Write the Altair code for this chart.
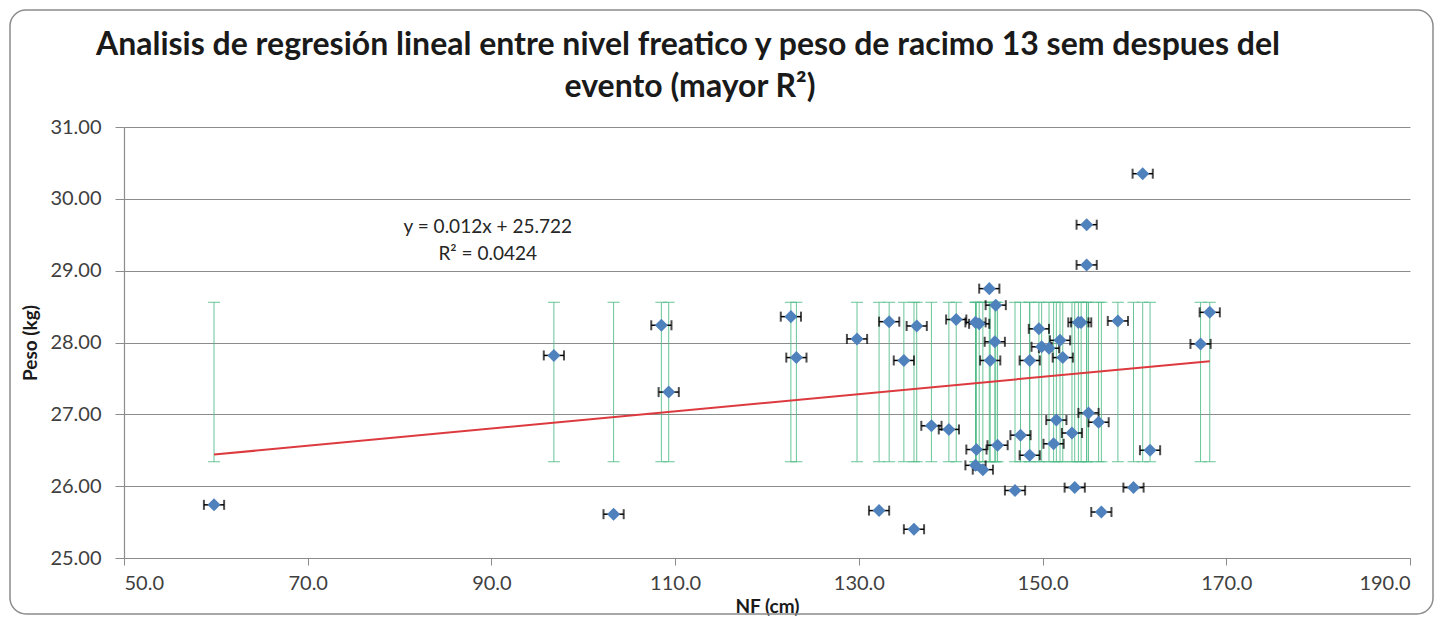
import altair as alt
import pandas as pd

# NF (cm) and Peso (kg)
nf = [59.8, 96.8, 103.3, 108.5, 109.3, 122.6, 123.2, 129.8, 132.2, 133.3,
      134.9, 136.0, 136.3, 137.9, 139.8, 140.6, 142.7, 143.1, 142.8, 142.7,
      143.5, 144.2, 144.9, 144.8, 144.3, 145.1, 147.0, 147.6, 148.6, 148.6,
      149.6, 149.9, 150.7, 151.5, 151.2, 151.9, 152.2, 153.2, 153.5, 153.9,
      154.2, 154.8, 154.8, 155.0, 156.1, 156.4, 158.2, 159.9, 160.9, 161.7,
      167.2, 168.2]
peso = [25.74, 27.82, 25.61, 28.24, 27.31, 28.36, 27.79, 28.05, 25.66, 28.29,
        27.75, 25.40, 28.23, 26.84, 26.79, 28.32, 28.28, 28.26, 26.51, 26.29,
        26.23, 28.75, 28.52, 28.01, 27.75, 26.57, 25.94, 26.71, 27.75, 26.43,
        28.19, 27.94, 27.92, 26.92, 26.59, 28.03, 27.79, 26.74, 25.98, 28.28,
        28.28, 29.08, 29.64, 27.02, 26.89, 25.64, 28.30, 25.98, 30.35, 26.50,
        27.98, 28.42]
nf_err = 1.1            # horizontal error (cm)
peso_low = 26.34        # vertical error bar extent (kg)
peso_high = 28.56

trend_x = [59.8, 168.2]
trend_y = [26.44, 27.74]

eq_text = ["y = 0.012x + 25.722", "R\u00b2 = 0.0424"]
eq_x = [89.6, 89.6]
eq_y = [29.61, 29.23]

title_lines = ["Analisis de regresión lineal entre nivel freatico y peso de racimo 13 sem despues del",
               "evento (mayor R\u00b2)"]

x_ticks = [50, 70, 90, 110, 130, 150, 170, 190]
y_ticks = [25, 26, 27, 28, 29, 30, 31]

df = pd.DataFrame({"nf": nf, "peso": peso})
df["xlo"] = df["nf"] - nf_err
df["xhi"] = df["nf"] + nf_err
df["lo"] = peso_low
df["hi"] = peso_high

trend_df = pd.DataFrame({"nf": trend_x, "peso": trend_y})
eq_df = pd.DataFrame({"t": eq_text, "nf": eq_x, "peso": eq_y})

FONT = "Lato"
GRAY = "#8c8c8c"
LABEL = "#404040"
GREEN = "#4fbb86"
BLUE = "#4f81bd"

xs = alt.Scale(domain=[50, 190], nice=False, zero=False)
ys = alt.Scale(domain=[25, 31], nice=False, zero=False)
xaxis = alt.Axis(values=x_ticks, format=".1f", grid=False, title="NF (cm)",
                 tickSize=7, labelPadding=8, titlePadding=4)
yaxis = alt.Axis(values=y_ticks, format=".2f", grid=True, title="Peso (kg)",
                 tickSize=9, labelPadding=14, titlePadding=9)


def X(f):
    return alt.X(f, type="quantitative", scale=xs, axis=xaxis)


def Y(f):
    return alt.Y(f, type="quantitative", scale=ys, axis=yaxis)


base = alt.Chart(df)

g_rule = base.mark_rule(color=GREEN, strokeWidth=1, opacity=0.85).encode(
    x=X("nf"), y=Y("lo"), y2="hi")
g_cap_lo = base.mark_tick(orient="horizontal", size=12, thickness=1,
                          color=GREEN, opacity=0.85).encode(x=X("nf"), y=Y("lo"))
g_cap_hi = base.mark_tick(orient="horizontal", size=12, thickness=1,
                          color=GREEN, opacity=0.85).encode(x=X("nf"), y=Y("hi"))

trend = alt.Chart(trend_df).mark_line(color="#dc3a3f", strokeWidth=2).encode(
    x=X("nf"), y=Y("peso"))

b_rule = base.mark_rule(color="black", strokeWidth=1.5).encode(
    x=X("xlo"), x2="xhi", y=Y("peso"))
b_cap_lo = base.mark_tick(orient="vertical", size=10, thickness=2,
                          color="black").encode(x=X("xlo"), y=Y("peso"))
b_cap_hi = base.mark_tick(orient="vertical", size=10, thickness=2,
                          color="black").encode(x=X("xhi"), y=Y("peso"))

pts = base.mark_point(shape="diamond", filled=True, size=170, color=BLUE,
                      opacity=1).encode(x=X("nf"), y=Y("peso"))

eq = alt.Chart(eq_df).mark_text(font=FONT, fontSize=19, color="#262626",
                                align="center", baseline="middle").encode(
    x=X("nf"), y=Y("peso"), text="t:N")

one = pd.DataFrame({"a": [0]})
border = alt.Chart(one).mark_rect(
    fill="white", fillOpacity=0, stroke=GRAY, strokeWidth=1.5,
    cornerRadius=16).encode(
    x=alt.value(-114), x2=alt.value(1309), y=alt.value(-117), y2=alt.value(487))

title1 = alt.Chart(one).mark_text(
    font=FONT, fontSize=32, fontWeight="bold", color="#1a1a1a",
    align="center", baseline="middle", text=title_lines[0]).encode(
    x=alt.value(564), y=alt.value(-82))
title2 = alt.Chart(one).mark_text(
    font=FONT, fontSize=32, fontWeight="bold", color="#1a1a1a",
    align="center", baseline="middle", text=title_lines[1]).encode(
    x=alt.value(566), y=alt.value(-40))

chart = alt.layer(
    border, g_rule, g_cap_lo, g_cap_hi, trend, b_rule, b_cap_lo, b_cap_hi, pts, eq,
    title1, title2
).properties(
    width=1286, height=431,
    autosize=alt.AutoSizeParams(type="none"),
    padding={"left": 116, "top": 119, "right": 26, "bottom": 58},
).configure_view(stroke=None).configure_axis(
    labelFont=FONT, labelFontSize=20, labelColor=LABEL,
    titleFont=FONT, titleFontSize=19, titleFontWeight="bold", titleColor="#1a1a1a",
    domainColor=GRAY, tickColor=GRAY, gridColor=GRAY, gridWidth=1.2,
    domainWidth=1.2,
)

chart.save("out.html", embed_options={"renderer": "svg", "actions": False})
